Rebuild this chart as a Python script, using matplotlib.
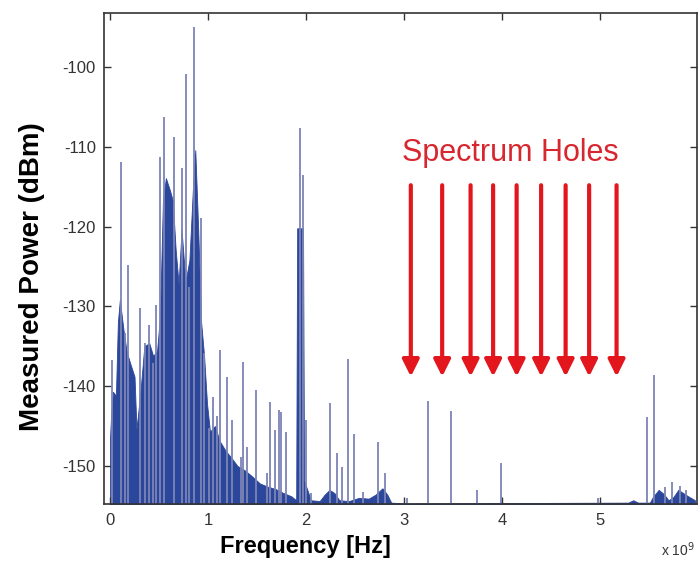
import numpy as np
import matplotlib
matplotlib.use("Agg")
import matplotlib.pyplot as plt

# Occupied band envelope (frequency in GHz, power in dBm)
floor_freq_ghz = [0.00, 0.00, 0.01, 0.03, 0.06, 0.08, 0.10, 0.14, 0.17, 0.21, 0.25, 0.27,
                  0.31, 0.35, 0.40, 0.44, 0.48, 0.51, 0.54, 0.57, 0.61, 0.64, 0.67, 0.70,
                  0.73, 0.77, 0.81, 0.85, 0.87, 0.90, 0.93, 0.96, 0.99, 1.02, 1.07, 1.12,
                  1.18, 1.24, 1.30, 1.37, 1.44, 1.53, 1.61, 1.69, 1.77, 1.85, 1.90, 1.91,
                  1.97, 1.98, 2.05, 2.14, 2.19, 2.24, 2.29, 2.34, 2.44, 2.54, 2.64, 2.71,
                  2.78, 2.83, 2.87, 3.00, 5.29, 5.34, 5.39, 5.51, 5.54, 5.60, 5.65, 5.70,
                  5.75, 5.80, 5.85, 5.90, 5.97]
floor_dbm = [-155.0, -146.5, -143.9, -140.7, -141.2, -132.0, -129.2, -133.2, -135.7, -137.3,
             -138.8, -145.4, -140.7, -135.0, -134.6, -136.2, -135.6, -131.2, -116.7, -113.9,
             -115.4, -116.7, -122.9, -127.2, -120.4, -126.9, -124.2, -114.2, -110.4, -120.4,
             -132.0, -136.2, -142.2, -145.7, -145.0, -146.9, -148.1, -149.0, -150.0, -150.5,
             -151.2, -152.2, -152.6, -152.9, -153.4, -153.8, -154.3, -120.2, -120.2, -151.8,
             -154.3, -154.4, -153.6, -153.0, -153.4, -154.3, -154.4, -154.0, -154.1, -153.6,
             -152.8, -153.6, -154.6, -154.7, -154.6, -154.3, -154.6, -154.6, -153.9, -153.0,
             -153.5, -154.3, -153.9, -153.0, -153.4, -153.8, -154.3]

# Narrowband carriers
spike_freq_ghz = [0.02, 0.11, 0.15, 0.18, 0.31, 0.36, 0.40, 0.44, 0.47, 0.51, 0.55, 0.65,
                  0.73, 0.78, 0.81, 0.86, 0.93, 0.96, 1.01, 1.05, 1.09, 1.12, 1.19, 1.25,
                  1.34, 1.36, 1.40, 1.49, 1.60, 1.63, 1.68, 1.72, 1.75, 1.80, 1.94, 1.97,
                  2.00, 2.05, 2.25, 2.32, 2.37, 2.43, 2.49, 2.58, 2.73, 2.81, 3.03, 3.25,
                  3.48, 3.75, 3.99, 4.98, 5.48, 5.55, 5.66, 5.74, 5.82, 5.88]
spike_dbm = [-136.7, -111.9, -133.3, -124.8, -130.2, -134.6, -132.3, -137.1, -129.8, -111.3,
             -106.3, -108.8, -112.7, -100.9, -127.6, -95.0, -118.9, -135.8, -145.2, -141.3,
             -143.8, -135.5, -138.8, -144.2, -148.9, -137.0, -147.6, -140.5, -150.9, -142.0,
             -145.5, -143.0, -143.2, -145.7, -107.6, -113.5, -144.2, -153.4, -142.1, -148.4,
             -150.1, -136.6, -146.0, -153.3, -147.0, -150.9, -154.0, -141.9, -143.1, -153.0,
             -149.6, -154.0, -143.9, -138.6, -152.6, -152.0, -152.5, -153.0]

# Unused channels marked on the plot
hole_freq_ghz = [3.07, 3.39, 3.68, 3.91, 4.15, 4.40, 4.65, 4.89, 5.17]
hole_arrow_top = -114.8
hole_arrow_tip = -138.8

x_ticks = [0, 1, 2, 3, 4, 5]
y_ticks = [-150, -140, -130, -120, -110, -100]
y_min, y_max = -154.8, -93.2

plt.rcParams['font.family'] = ['Liberation Sans', 'DejaVu Sans']

fig = plt.figure(figsize=(6.99, 5.64), dpi=100)
ax = fig.add_axes([0.149, 0.106, 0.848, 0.871])

blue = '#2B479B'
ax.fill_between(floor_freq_ghz, floor_dbm, y_min, color=blue, linewidth=0.6,
                edgecolor=blue)
ax.vlines(spike_freq_ghz, y_min, spike_dbm, color='#7C84B6', linewidth=1.3)

for f in hole_freq_ghz:
    ax.annotate('', xy=(f, hole_arrow_tip), xytext=(f, hole_arrow_top),
                arrowprops=dict(arrowstyle='-|>,head_length=1.0,head_width=0.5',
                                color='#E3161E', lw=3.0, shrinkA=0, shrinkB=0))
ax.text(4.09, -110.7, 'Spectrum Holes', color='#D8262E', fontsize=22,
        ha='center', va='center')

ax.set_xlim(-0.06, 5.99)
ax.set_ylim(y_min, y_max)
ax.set_xticks(x_ticks)
ax.set_yticks(y_ticks)
ax.set_xticklabels([str(t) for t in x_ticks])
ax.set_yticklabels([str(t) for t in y_ticks])
ax.tick_params(direction='in', top=True, right=True, length=5, width=1.0,
               labelsize=12, colors='#333333', pad=6)
for spine in ax.spines.values():
    spine.set_linewidth(1.2)
    spine.set_color('#333333')

ax.set_xlabel('Frequency [Hz]', fontsize=17, fontweight='bold')
ax.xaxis.set_label_coords(0.34, -0.062)
ax.set_ylabel('Measured Power (dBm)', fontsize=20, fontweight='bold')
ax.yaxis.set_label_coords(-0.1, 0.464)
fig.text(0.994, 0.025, r'x 10$^9$', fontsize=10, color='#333333',
         ha='right', va='center')

fig.savefig('out.png', dpi=100)
